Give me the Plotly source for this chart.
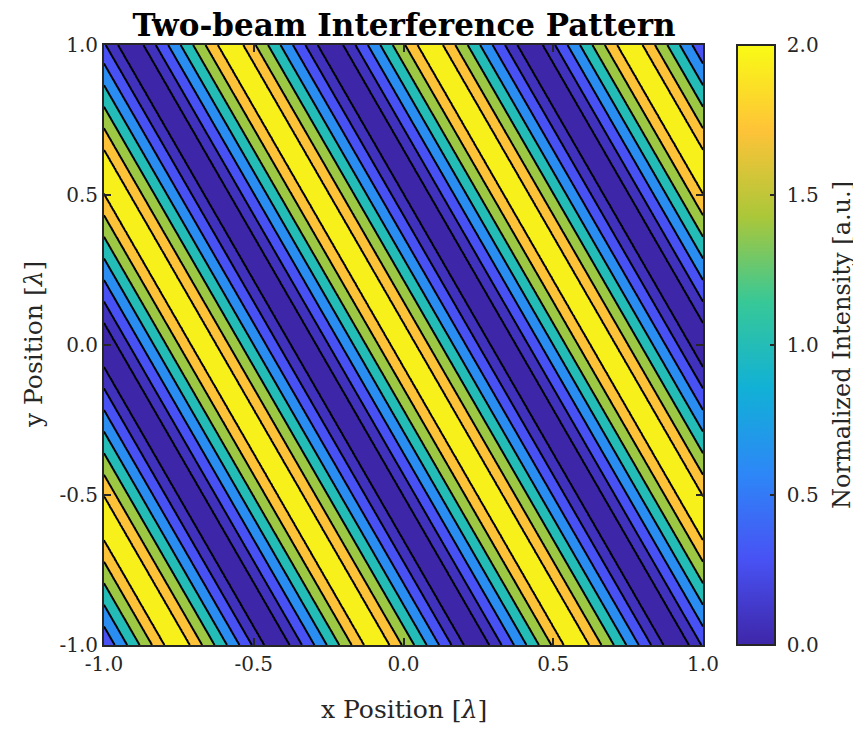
import numpy as np
import plotly.graph_objects as go

# ---- data ----
x_range = [-1.0, 1.0]
y_range = [-1.0, 1.0]
n_grid = 401
# fringe wave-vector components (rad per lambda), read from stripe spacing/tilt
kx_fringe = 3 * np.pi
ky_fringe = np.sqrt(3) * np.pi
phase_offset = 0.0

intensity_levels = [0.076, 0.293, 0.617, 1.0, 1.383, 1.707, 1.924]
band_colors = ["#3e26a8", "#4032bd", "#4852f4", "#298df2",
               "#24bcb6", "#9cc844", "#fcc338", "#f8f01a"]

tick_vals = [-1.0, -0.5, 0.0, 0.5, 1.0]
tick_text = ["-1.0", "-0.5", "0.0", "0.5", "1.0"]
cbar_vals = [0.0, 0.5, 1.0, 1.5, 2.0]
cbar_text = ["0.0", "0.5", "1.0", "1.5", "2.0"]

parula = [
    [0.0, "#3e26a8"], [1 / 7, "#4852f4"], [2 / 7, "#2d87f7"], [3 / 7, "#11b1d6"],
    [4 / 7, "#37c897"], [5 / 7, "#abc739"], [6 / 7, "#fec338"], [1.0, "#f9fb15"],
]

title_text = "<b>Two-beam Interference Pattern</b>"
x_title = "x Position [<i>λ</i>]"
y_title = "y Position [<i>λ</i>]"
cbar_title = "Normalized Intensity [a.u.]"

# ---- field ----
xs = np.linspace(x_range[0], x_range[1], n_grid)
ys = np.linspace(y_range[0], y_range[1], n_grid)
X, Y = np.meshgrid(xs, ys)
intensity = 1.0 + np.cos(kx_fringe * X + ky_fringe * Y + phase_offset)

# map intensity onto band index so non-uniform levels become integer contours
edges = [0.0] + intensity_levels + [2.0]
band_index = np.interp(intensity, edges, np.arange(len(edges)))

n_bands = len(band_colors)
step_scale = []
for k, c in enumerate(band_colors):
    lo = max(0.0, (k - 0.5) / (n_bands - 1))
    hi = min(1.0, (k + 0.5) / (n_bands - 1))
    step_scale += [[lo, c], [hi, c]]

FONT = "DejaVu Serif"
AX = "#262626"
TXT = "#262626"
NB = "\u00a0"

fig = go.Figure()
fig.add_trace(go.Contour(
    x=xs, y=ys, z=band_index,
    autocontour=False,
    contours=dict(start=1, end=len(intensity_levels), size=1, coloring="fill"),
    colorscale=step_scale,
    line=dict(color="black", width=2),
    showscale=False,
    hoverinfo="skip",
))
fig.add_trace(go.Scatter(
    x=[None, None], y=[None, None], mode="markers",
    marker=dict(color=[0, 2], cmin=0, cmax=2, colorscale=parula,
                showscale=True,
                colorbar=dict(
                    x=1.0568, xanchor="left", y=0.5, yanchor="middle",
                    len=1.0, lenmode="fraction", thickness=38,
                    ypad=0, xpad=0,
                    outlinewidth=2, outlinecolor=AX,
                    ticks="inside", ticklen=6, tickwidth=1.5, tickcolor=AX,
                    tickvals=cbar_vals, ticktext=[NB + t for t in cbar_text],
                    tickfont=dict(family=FONT, size=20, color=TXT),
                )),
    showlegend=False, hoverinfo="skip",
))

axis_common = dict(
    showline=True, linewidth=2, linecolor=AX, mirror="ticks",
    ticks="inside", ticklen=7, tickwidth=1.5, tickcolor=AX,
    showgrid=False, zeroline=False, automargin=False,
    tickfont=dict(family=FONT, size=20, color=TXT),
    tickvals=tick_vals, ticktext=tick_text,
)
fig.update_xaxes(range=x_range, **axis_common)
fig.update_yaxes(range=y_range, **axis_common)

fig.add_annotation(text=x_title, xref="paper", yref="paper", x=0.5, y=-0.1083,
                   xanchor="center", yanchor="middle", showarrow=False,
                   font=dict(family=FONT, size=25, color=TXT))
fig.add_annotation(text=y_title, xref="paper", yref="paper", x=-0.1185, y=0.5,
                   xanchor="center", yanchor="middle", showarrow=False,
                   textangle=-90, font=dict(family=FONT, size=25, color=TXT))
fig.add_annotation(text=cbar_title, xref="paper", yref="paper", x=1.232, y=0.5,
                   xanchor="center", yanchor="middle", showarrow=False,
                   textangle=-90, font=dict(family=FONT, size=24, color=TXT))

fig.update_layout(
    width=853, height=721,
    margin=dict(l=96, r=158, t=37, b=84, autoexpand=False),
    paper_bgcolor="white", plot_bgcolor="white",
    title=dict(text=title_text, x=(404 - 8) / 853, xanchor="center",
               y=1 - 17 / 721, yanchor="middle",
               font=dict(family=FONT, size=31, color="black")),
)
fig.write_html("out.html")
